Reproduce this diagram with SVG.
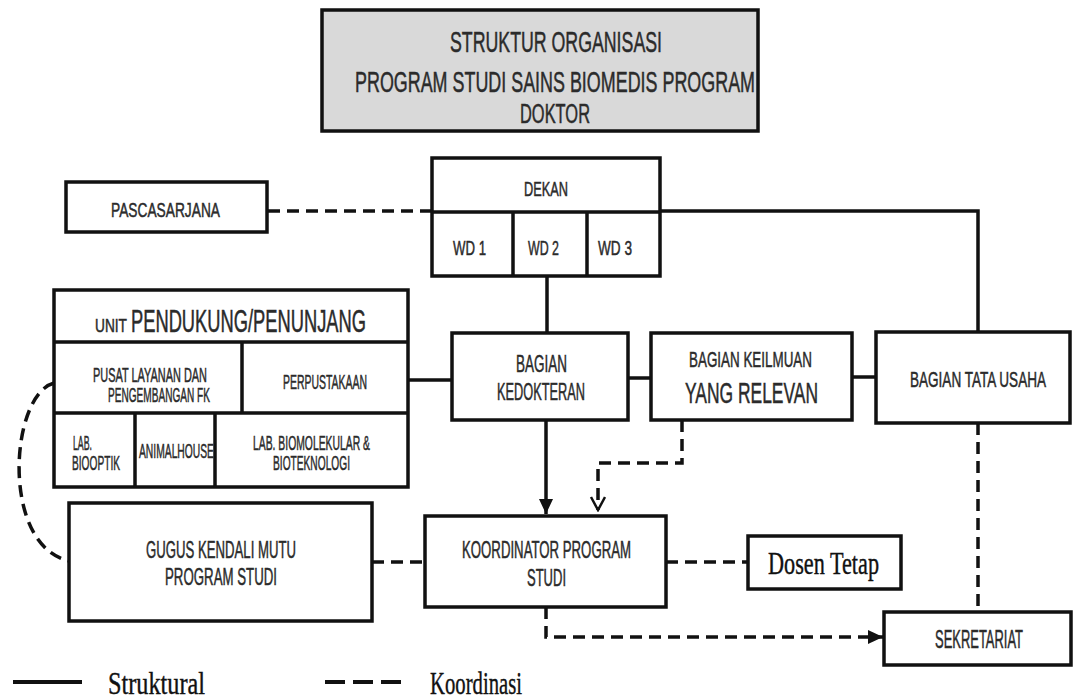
<svg xmlns="http://www.w3.org/2000/svg" width="1074" height="698" viewBox="0 0 1074 698">
<style>
.box{fill:#fff;stroke:#111;stroke-width:3.5}
.ln{fill:none;stroke:#111;stroke-width:3.5}
.ds{fill:none;stroke:#111;stroke-width:3.5;stroke-dasharray:12 7}
.t{font-family:"Liberation Sans",Arial,sans-serif;fill:#2b2b2b;stroke:#2b2b2b;stroke-width:0.5}
.s{font-family:"Liberation Serif","Times New Roman",serif;fill:#111;stroke:#111;stroke-width:0.4}
</style>
<defs>
<marker id="fill" markerUnits="userSpaceOnUse" markerWidth="16" markerHeight="16" refX="15" refY="7" orient="auto">
<path d="M0,0 L15,7 L0,14 z" fill="#111"/>
</marker>
<marker id="open" markerUnits="userSpaceOnUse" markerWidth="16" markerHeight="18" refX="14" refY="8" orient="auto">
<path d="M1,1 L14,8 L1,15" fill="none" stroke="#111" stroke-width="2.5"/>
</marker>
</defs>
<rect width="1074" height="698" fill="#fff"/>

<g id="title">
<rect x="322" y="10" width="436" height="121" fill="#d9d9d9" stroke="#111" stroke-width="3.5"/>
<text class="t" x="450" y="52" font-size="29" textLength="212" lengthAdjust="spacingAndGlyphs">STRUKTUR ORGANISASI</text>
<text class="t" x="355" y="92" font-size="29" textLength="400" lengthAdjust="spacingAndGlyphs">PROGRAM STUDI SAINS BIOMEDIS PROGRAM</text>
<text class="t" x="520" y="123" font-size="27" textLength="70" lengthAdjust="spacingAndGlyphs">DOKTOR</text>
</g>

<g id="connectors">
<path class="ds" d="M268 211 H432"/>
<path class="ln" d="M660 211 H978 V332"/>
<path class="ln" d="M547 276 V333"/>
<path class="ln" d="M408 380 H452"/>
<path class="ln" d="M628 378 H651"/>
<path class="ln" d="M852 377 H876"/>
<path class="ln" d="M546 420 V514" marker-end="url(#fill)"/>
<path class="ds" d="M682 420 V463 H598 V510" marker-end="url(#open)"/>
<path class="ds" d="M372 562 H425"/>
<path class="ds" d="M54 383 C10 395 0 545 69 561"/>
<path class="ds" d="M666 562 H748"/>
<path class="ds" d="M546 607 V637 H883" marker-end="url(#fill)"/>
<path class="ds" d="M978 423 V612"/>
</g>

<g id="dekan">
<rect class="box" x="432" y="158" width="228" height="118"/>
<path class="ln" d="M432 212 H660 M513 212 V276 M587 212 V276"/>
<text class="t" x="524" y="196" font-size="21" textLength="44" lengthAdjust="spacingAndGlyphs">DEKAN</text>
<text class="t" x="453" y="255" font-size="21" textLength="33" lengthAdjust="spacingAndGlyphs">WD 1</text>
<text class="t" x="528" y="255" font-size="21" textLength="31" lengthAdjust="spacingAndGlyphs">WD 2</text>
<text class="t" x="598" y="255" font-size="21" textLength="34" lengthAdjust="spacingAndGlyphs">WD 3</text>
</g>

<g id="pascasarjana">
<rect class="box" x="66" y="182" width="201" height="50"/>
<text class="t" x="111" y="217" font-size="21" textLength="109" lengthAdjust="spacingAndGlyphs">PASCASARJANA</text>
</g>

<g id="unit">
<rect class="box" x="54" y="290" width="354" height="197"/>
<path class="ln" d="M54 342 H408 M54 413 H408 M242 342 V413 M135 413 V487 M215 413 V487"/>
<text class="t" x="95" y="332" font-size="19" textLength="32" lengthAdjust="spacingAndGlyphs">UNIT</text>
<text class="t" x="131" y="332" font-size="31" textLength="235" lengthAdjust="spacingAndGlyphs">PENDUKUNG/PENUNJANG</text>
<text class="t" x="93" y="382" font-size="20" textLength="114" lengthAdjust="spacingAndGlyphs">PUSAT LAYANAN DAN</text>
<text class="t" x="108" y="402" font-size="20" textLength="102" lengthAdjust="spacingAndGlyphs">PENGEMBANGAN FK</text>
<text class="t" x="283" y="389" font-size="20" textLength="84" lengthAdjust="spacingAndGlyphs">PERPUSTAKAAN</text>
<text class="t" x="73" y="450" font-size="20" textLength="19" lengthAdjust="spacingAndGlyphs">LAB.</text>
<text class="t" x="72" y="470" font-size="20" textLength="48" lengthAdjust="spacingAndGlyphs">BIOOPTIK</text>
<text class="t" x="139" y="458" font-size="20" textLength="75" lengthAdjust="spacingAndGlyphs">ANIMALHOUSE</text>
<text class="t" x="253" y="450" font-size="20" textLength="117" lengthAdjust="spacingAndGlyphs">LAB. BIOMOLEKULAR &amp;</text>
<text class="t" x="273" y="470" font-size="20" textLength="77" lengthAdjust="spacingAndGlyphs">BIOTEKNOLOGI</text>
</g>

<g id="kedokteran">
<rect class="box" x="452" y="333" width="176" height="87"/>
<text class="t" x="516" y="372" font-size="23" textLength="51" lengthAdjust="spacingAndGlyphs">BAGIAN</text>
<text class="t" x="497" y="400" font-size="23" textLength="88" lengthAdjust="spacingAndGlyphs">KEDOKTERAN</text>
</g>

<g id="keilmuan">
<rect class="box" x="651" y="333" width="201" height="87"/>
<text class="t" x="689" y="367" font-size="22" textLength="123" lengthAdjust="spacingAndGlyphs">BAGIAN KEILMUAN</text>
<text class="t" x="685" y="403" font-size="30" textLength="133" lengthAdjust="spacingAndGlyphs">YANG RELEVAN</text>
</g>

<g id="tatausaha">
<rect class="box" x="876" y="332" width="194" height="91"/>
<text class="t" x="910" y="387" font-size="22" textLength="136" lengthAdjust="spacingAndGlyphs">BAGIAN TATA USAHA</text>
</g>

<g id="koordinator">
<rect class="box" x="425" y="516" width="241" height="91"/>
<text class="t" x="462" y="558" font-size="23" textLength="169" lengthAdjust="spacingAndGlyphs">KOORDINATOR PROGRAM</text>
<text class="t" x="527" y="586" font-size="23" textLength="39" lengthAdjust="spacingAndGlyphs">STUDI</text>
</g>

<g id="gugus">
<rect class="box" x="69" y="503" width="303" height="118"/>
<text class="t" x="146" y="558" font-size="23" textLength="150" lengthAdjust="spacingAndGlyphs">GUGUS KENDALI MUTU</text>
<text class="t" x="165" y="585" font-size="23" textLength="112" lengthAdjust="spacingAndGlyphs">PROGRAM STUDI</text>
</g>

<g id="dosen">
<rect class="box" x="748" y="536" width="153" height="53"/>
<text class="s" x="768" y="574" font-size="31" textLength="111" lengthAdjust="spacingAndGlyphs">Dosen Tetap</text>
</g>

<g id="sekretariat">
<rect class="box" x="884" y="612" width="187" height="53"/>
<text class="t" x="935" y="648" font-size="25" textLength="88" lengthAdjust="spacingAndGlyphs">SEKRETARIAT</text>
</g>

<g id="legend">
<path d="M13 682 H82" stroke="#111" stroke-width="4" fill="none"/>
<text class="s" x="108" y="694" font-size="32" textLength="97" lengthAdjust="spacingAndGlyphs">Struktural</text>
<path d="M325 682 H401" stroke="#111" stroke-width="4" fill="none" stroke-dasharray="20 8"/>
<text class="s" x="430" y="694" font-size="32" textLength="92" lengthAdjust="spacingAndGlyphs">Koordinasi</text>
</g>
</svg>
